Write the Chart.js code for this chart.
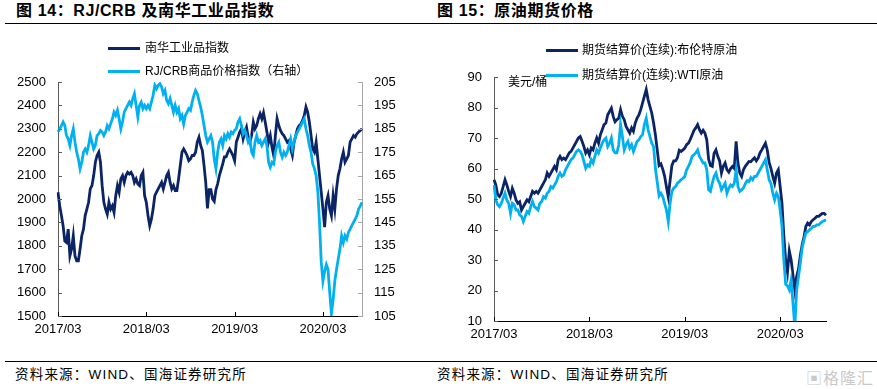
<!DOCTYPE html>
<html>
<head>
<meta charset="utf-8">
<script src="https://cdn.jsdelivr.net/npm/chart.js@4.4.1/dist/chart.umd.min.js"></script>
<style>
  body { margin: 0; width: 877px; height: 389px; background: #fff; position: relative; overflow: hidden;
         font-family: "Liberation Sans", Arial, "Noto Sans CJK SC", sans-serif; color: #000; }
  .abs { position: absolute; white-space: nowrap; }
  .title { font-size: 16px; font-weight: 700; letter-spacing: 0.6px; top: 0; line-height: 22px; }
  .rule { position: absolute; height: 0; border-top: 1.3px solid #000; }
  .legend { font-size: 12px; line-height: 14px; }
  .swatch { position: absolute; height: 3px; width: 32px; }
  .src { font-size: 13.5px; letter-spacing: 1.2px; line-height: 16px; top: 367px; }
  canvas { position: absolute; top: 0; }
</style>
</head>
<body>
<div class="abs title" style="left:16px">图 14：RJ/CRB 及南华工业品指数</div>
<div class="abs title" style="left:437px">图 15：原油期货价格</div>
<div class="rule" style="left:5px; width:872px; top:23px"></div>

<canvas id="c14" width="440" height="345" style="left:0"></canvas>
<canvas id="c15" width="437" height="345" style="left:440px"></canvas>

<div class="swatch" style="left:108px; top:47px; background:#0b2466"></div>
<div class="abs legend" style="left:145px; top:41px">南华工业品指数</div>
<div class="swatch" style="left:108px; top:70px; background:#00b0f0"></div>
<div class="abs legend" style="left:145px; top:64px">RJ/CRB商品价格指数（右轴）</div>

<div class="swatch" style="left:546px; top:49px; background:#0b2466"></div>
<div class="abs legend" style="left:582px; top:43px">期货结算价(连续):布伦特原油</div>
<div class="swatch" style="left:546px; top:74px; background:#00b0f0"></div>
<div class="abs legend" style="left:582px; top:68px">期货结算价(连续):WTI原油</div>
<div class="abs legend" style="left:508px; top:75px">美元/桶</div>

<div class="rule" style="left:5px; width:872px; top:361px"></div>
<div class="abs src" style="left:15px">资料来源：WIND、国海证券研究所</div>
<div class="abs src" style="left:437px">资料来源：WIND、国海证券研究所</div>
<div class="abs" style="left:806px; top:365px; font-size:16px; color:#c9c9c9; letter-spacing:1px">▣格隆汇</div>

<script>
// weekly samples starting 2017/03
const xTickLabels = ['2017/03', '2018/03', '2019/03', '2020/03'];

const nanhua = [
  2029, 1971, 1930, 1886, 1820, 1814, 1871, 1757, 1786, 1843,
  1757, 1736, 1736, 1786, 1843, 1871, 1929, 1957, 1986, 2043,
  2057, 2100, 2157, 2186, 2200, 2157, 2057, 1986, 1957, 1935,
  1986, 1957, 1971, 1943, 2014, 2057, 2029, 2086, 2100, 2071,
  2100, 2114, 2107, 2114, 2100, 2071, 2086, 2064, 2057, 2100,
  2114, 2014, 1986, 1929, 1886, 1914, 1957, 2014, 2029, 2043,
  2057, 2071, 2043, 2071, 2100, 2114, 2071, 2043, 2057, 2036,
  2036, 2086, 2143, 2200, 2214, 2200, 2186, 2164, 2171, 2186,
  2186, 2200, 2243, 2264, 2229, 2207, 2143, 2070, 1960, 2040,
  2040, 2000, 1990, 2040, 2065, 2100, 2125, 2150, 2180, 2180,
  2200, 2214, 2200, 2186, 2164, 2243, 2264, 2286, 2300, 2257,
  2286, 2307, 2264, 2243, 2271, 2329, 2300, 2314, 2343, 2364,
  2343, 2369, 2329, 2286, 2243, 2271, 2221, 2186, 2271, 2343,
  2314, 2293, 2279, 2271, 2257, 2243, 2250, 2214, 2186, 2243,
  2271, 2300, 2314, 2321, 2336, 2357, 2393, 2371, 2329, 2271,
  2214, 2200, 2243, 2171, 2100, 2029, 1957, 1880, 1986, 2014,
  1957, 1929, 2014, 1957, 2043, 2100, 2129, 2171, 2200, 2157,
  2171, 2186, 2243, 2257, 2271, 2264, 2279, 2286, 2293, 2300
];

const rjcrb = [
  183.6, 185, 186.4, 187.9, 186.4, 182.1, 180.7, 177.9, 182.1, 185,
  179.3, 175, 172.1, 167.9, 170.7, 175, 176.4, 175, 177.9, 182.1,
  179.3, 176.4, 177.9, 182.1, 182.9, 184.3, 183.6, 182.1, 183.6, 186.4,
  185, 187.1, 189.3, 192.1, 190.7, 192.9, 189.3, 185, 187.9, 192.1,
  193.6, 195, 196.4, 195, 197.9, 200, 195, 190, 195, 196.4,
  193.6, 195, 193.6, 195, 193.6, 196.4, 199.3, 203.6, 202.1, 203.6,
  204.3, 202.9, 200, 201.4, 197.1, 195.7, 197.9, 195, 192.1, 195,
  192.1, 193.6, 189.3, 190.7, 187.1, 190.7, 192.1, 193.6, 192.9, 196.4,
  199.3, 201.4, 200, 197.1, 194.3, 190.7, 186.4, 182.1, 179.3, 180.7,
  182.1, 179.3, 172.1, 167.9, 175, 179.3, 180.7, 177.9, 182.1, 180.7,
  182.9, 181.4, 183.6, 182.9, 184.3, 185, 187.9, 189.3, 186.4, 182.9,
  184.3, 182.1, 179.3, 180.7, 175, 173.6, 179.3, 182.1, 179.3, 180,
  177.9, 179.3, 180.7, 177.9, 170.7, 168.6, 170.7, 170, 175, 177.9,
  179.3, 175, 172.9, 175, 173.6, 175, 177.9, 180.7, 176.4, 179.3,
  182.1, 183.6, 185, 186.4, 187.9, 189.3, 185, 182.1, 177.9, 175,
  170, 168, 165, 158, 145, 128, 120, 124, 127, 125,
  115, 106, 112, 120, 125, 129.3, 133.6, 139.3, 136.4, 139.3,
  137.9, 140.7, 142.1, 143.6, 145, 146.4, 147.9, 150.7, 152.1, 153.6
];

const brent = [
  56.3, 54.6, 51.4, 50.8, 51.9, 54.1, 56.3, 54.6, 52.5, 50.8,
  53.5, 51.9, 49.7, 48.6, 49.1, 46.4, 47.5, 48.6, 49.7, 49.1,
  50.8, 52.5, 51.9, 52.5, 51.9, 53, 54.1, 55.2, 56.3, 58.5,
  57.4, 58.5, 59.6, 60.7, 59.6, 62.9, 64, 62.9, 63.4, 62.9,
  64, 65.1, 65.6, 66.7, 67.8, 68.9, 70, 70.5, 68.9, 67.2,
  65.1, 66.1, 64.5, 66.7, 66.1, 68.3, 70, 68.3, 71.1, 72.7,
  74.4, 74.9, 77.6, 78.7, 79.8, 77.1, 75.3, 76, 76.5, 79.3,
  77.1, 76, 73.8, 72.7, 71.6, 73.3, 72.2, 74.9, 76.5, 77.6,
  79.3, 81.5, 83.7, 85.9, 82.6, 80.4, 78.2, 74.9, 71, 66,
  61, 61.5, 59.8, 57.5, 54, 50.8, 56, 61, 62.5, 62.5,
  63.5, 66, 65.6, 66.1, 66.7, 67.8, 68.3, 69.5, 71, 72.5,
  73.3, 74.4, 72.7, 71.6, 72.5, 71.6, 69.4, 63, 61, 60.7,
  65, 66.1, 64, 62.5, 58.5, 60.7, 61.8, 59.6, 58.8, 60,
  60.7, 60, 68.9, 61.8, 58.5, 57.4, 59.6, 60.7, 61.5, 62.3,
  62.2, 62.9, 63.5, 62.5, 63.4, 65.1, 66.1, 67.2, 68.3, 66,
  62, 60, 57.4, 55.2, 58.5, 59.6, 54.1, 48.6, 38, 30,
  26, 33, 30, 25, 20.2, 24.6, 27, 31.5, 35, 37.5,
  41, 42.1, 41.5, 42.6, 43.2, 43.7, 44.3, 44.3, 44.8, 45.3,
  45.3, 44.7
];

const wti = [
  54.6, 49.7, 48.1, 47.5, 48.6, 50.3, 51.9, 49.7, 48.6, 45.3,
  48.6, 48.1, 46.4, 46.4, 44.8, 44.3, 42.6, 44.3, 45.9, 45.3,
  47.5, 49.2, 47.5, 47, 46.4, 48.6, 49.2, 50.8, 50.3, 51.9,
  52.5, 54.1, 53.6, 54.6, 55.7, 57.4, 58.5, 57.4, 57.9, 59.6,
  60.7, 61.8, 62.9, 63.4, 64.5, 65.6, 66.1, 65.6, 64.5, 62.3,
  60.1, 61.2, 60.7, 62.9, 61.8, 64, 66.1, 65.1, 66.7, 68.3,
  69.4, 70, 67.2, 68.3, 70, 66.1, 65.1, 65.1, 67.8, 74.4,
  70.5, 66.1, 67.8, 68.9, 66.7, 67.8, 65.6, 67.2, 68.9, 69.4,
  70.5, 71.1, 74.4, 76.5, 72.7, 70.5, 68.3, 67.2, 60, 55.5,
  51, 51.9, 50.8, 48.6, 46.4, 42.6, 48.6, 52.5, 53.6, 54.1,
  55.2, 55.7, 56.3, 56.8, 57.4, 59.6, 60.7, 62, 64, 64.5,
  65.1, 66.1, 64, 62.9, 61.8, 61.8, 59.6, 53, 52.5, 55.2,
  57.4, 58.5, 56.3, 55.2, 53, 54.1, 55.2, 51.9, 53.5, 54.6,
  54.1, 55.2, 59.6, 54.1, 52.5, 53, 53.6, 55, 56, 55.7,
  57, 56.3, 57.4, 57.4, 58.5, 59.6, 60.7, 61.8, 62.9, 59.5,
  56.3, 55, 51.9, 49.7, 51.9, 50.8, 46.4, 41, 30, 22,
  21.5, 20.2, 23.5, 15.8, 8, 20.2, 24.6, 29, 34, 36.6,
  38.8, 39.3, 39.9, 40.4, 41, 41, 41.5, 41.5, 42.1, 42.6,
  42.9, 43.2
];

const DARK = '#0b2466';
const LIGHT = '#00b0f0';

// weekly date labels from 2017-03-06
function weekLabels(n) {
  const out = [];
  const t0 = Date.UTC(2017, 2, 6);
  for (let i = 0; i < n; i++) {
    const d = new Date(t0 + i * 7 * 86400000);
    const m = String(d.getUTCMonth() + 1).padStart(2, '0');
    const dd = String(d.getUTCDate()).padStart(2, '0');
    out.push(d.getUTCFullYear() + '/' + m + '/' + dd);
  }
  return out;
}

function xTickCallback(val, i) {
  const lab = this.getLabelForValue(val);
  const ym = lab.slice(0, 7);
  if (!xTickLabels.includes(ym)) return '';
  const prev = i > 0 ? this.getLabelForValue(i - 1).slice(0, 7) : null;
  return prev === ym ? '' : ym;
}

// small tick marks pointing into the plot, like the original
const innerTicks = {
  id: 'innerTicks',
  afterDraw(chart) {
    const ctx = chart.ctx;
    ctx.save();
    ctx.lineWidth = 1;
    Object.values(chart.scales).forEach(s => {
      ctx.strokeStyle = s.options.border.color;
      ctx.beginPath();
      if (s.axis === 'y') {
        const x0 = s.position === 'left' ? s.right : s.left;
        const dir = s.position === 'left' ? 1 : -1;
        s.ticks.forEach((t, i) => {
          const y = Math.round(s.getPixelForTick(i)) + 0.5;
          ctx.moveTo(x0, y); ctx.lineTo(x0 + dir * 4, y);
        });
      } else {
        s.ticks.forEach((t, i) => {
          if (!t.label) return;
          const x = Math.round(s.getPixelForTick(i)) + 0.5;
          ctx.moveTo(x, s.top); ctx.lineTo(x, s.top - 4);
        });
      }
      ctx.stroke();
    });
    ctx.restore();
  }
};

Chart.defaults.font.family = '"Liberation Sans", Arial, sans-serif';
Chart.defaults.font.size = 13;
Chart.defaults.color = '#000';

const lineDs = (data, color, yAxisID, order) => ({
  data, yAxisID, order,
  borderColor: color, borderWidth: 2.8, pointRadius: 0, tension: 0, fill: false
});

const xAxis = (h) => ({
  type: 'category',
  grid: { display: false, drawTicks: false },
  border: { display: true, color: '#000', width: 1 },
  ticks: { autoSkip: false, maxRotation: 0, padding: 6, callback: xTickCallback, font: { size: 13 } },
  afterFit: s => { s.height = h; }
});

const yAxis = (pos, min, max, step, w, color) => ({
  type: 'linear', position: pos, min, max,
  grid: { display: false, drawTicks: false },
  border: { display: true, color, width: 1 },
  ticks: { stepSize: step, padding: 12, font: { size: 13 }, callback: v => String(v) },
  afterFit: s => { s.width = w; }
});

new Chart(document.getElementById('c14'), {
  type: 'line',
  data: {
    labels: weekLabels(nanhua.length),
    datasets: [
      lineDs(nanhua, DARK, 'y', 2),
      lineDs(rjcrb, LIGHT, 'y1', 1)
    ]
  },
  options: {
    responsive: false, animation: false, devicePixelRatio: 1,
    layout: { padding: { top: 82, left: 0, right: 0, bottom: 0 } },
    plugins: { legend: { display: false }, tooltip: { enabled: false } },
    scales: {
      x: xAxis(29),
      y: yAxis('left', 1500, 2500, 100, 58, '#595959'),
      y1: yAxis('right', 105, 205, 10, 78, '#a6a6a6')
    }
  },
  plugins: [innerTicks]
});

new Chart(document.getElementById('c15'), {
  type: 'line',
  data: {
    labels: weekLabels(brent.length),
    datasets: [
      lineDs(brent, DARK, 'y', 2),
      lineDs(wti, LIGHT, 'y', 1)
    ]
  },
  options: {
    responsive: false, animation: false, devicePixelRatio: 1,
    layout: { padding: { top: 77, left: 0, right: 51, bottom: 0 } },
    plugins: { legend: { display: false }, tooltip: { enabled: false } },
    scales: {
      x: xAxis(24),
      y: yAxis('left', 10, 90, 10, 54, '#595959')
    }
  },
  plugins: [innerTicks]
});
</script>
</body>
</html>
